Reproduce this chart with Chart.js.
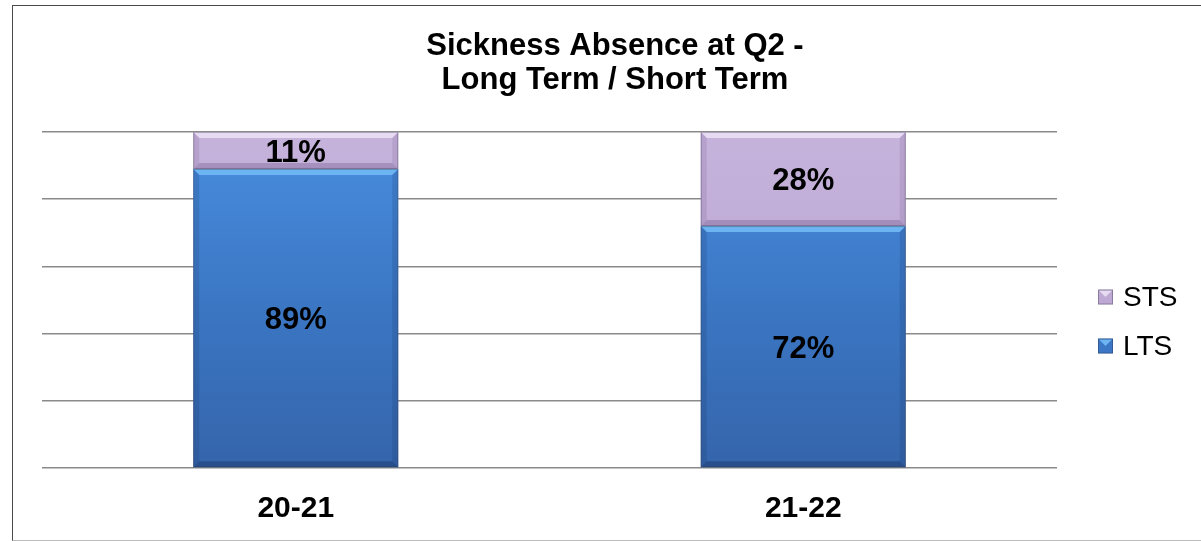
<!DOCTYPE html>
<html>
<head>
<meta charset="utf-8">
<script src="https://cdn.jsdelivr.net/npm/chart.js@4"></script>
<style>
  html, body { margin: 0; padding: 0; width: 1201px; height: 541px; overflow: hidden; background: #fff; }
  #box { position: absolute; left: 12px; top: 5px; width: 1204px; height: 534px;
         border-left: 1px solid #4a4a4a; border-top: 1px solid #4a4a4a; border-bottom: 1px solid #bdbdbd; border-right: 1px solid #4a4a4a; }
  canvas { display: block; }
</style>
</head>
<body>
<div id="box"><canvas id="c" width="1204" height="534"></canvas></div>
<script>
const categories = ['20-21', '21-22'];
const ltsValues = [89, 72];
const stsValues = [11, 28];
const yTicks = [0, 20, 40, 60, 80, 100];
const titleLines = ['Sickness Absence at Q2 -', 'Long Term / Short Term'];

const FONT = "'Liberation Sans', Arial, Helvetica, sans-serif";

const palette = {
  LTS: { body: ['#4a8ee0', '#3b77c4', '#3565ab'], top: '#6cb4f2', side: 'rgba(20,50,100,0.18)', bottom: 'rgba(10,30,70,0.30)' },
  STS: { body: ['#c6b3dc', '#bda9d3', '#b39fca'], top: '#e6dbf2', side: 'rgba(70,40,100,0.12)', bottom: 'rgba(60,30,90,0.22)' }
};

function gradFor(key) {
  return function (ctx) {
    const chart = ctx.chart;
    const area = chart.chartArea;
    if (!area) return palette[key].body[1];
    const g = chart.ctx.createLinearGradient(0, area.top, 0, area.bottom);
    g.addColorStop(0, palette[key].body[0]);
    g.addColorStop(0.5, palette[key].body[1]);
    g.addColorStop(1, palette[key].body[2]);
    return g;
  };
}

const titlePlugin = {
  id: 'centredTitle',
  afterDraw(chart) {
    const ctx = chart.ctx;
    ctx.save();
    ctx.font = "bold 31px " + FONT;
    ctx.fillStyle = '#000';
    ctx.textAlign = 'center';
    ctx.textBaseline = 'middle';
    const cx = chart.width / 2;
    titleLines.forEach((line, i) => ctx.fillText(line, cx, 40.5 + i * 34));
    ctx.restore();
  }
};

const bevelPlugin = {
  id: 'bevel',
  afterDatasetsDraw(chart) {
    const ctx = chart.ctx;
    chart.data.datasets.forEach((ds, di) => {
      const meta = chart.getDatasetMeta(di);
      const pal = palette[ds.label];
      meta.data.forEach((el) => {
        const p = el.getProps(['x', 'y', 'base', 'width'], true);
        const l = p.x - p.width / 2, r = p.x + p.width / 2;
        const t = Math.min(p.y, p.base), b = Math.max(p.y, p.base);
        const d = 6;
        ctx.save();
        ctx.fillStyle = pal.top;
        ctx.beginPath();
        ctx.moveTo(l, t); ctx.lineTo(r, t); ctx.lineTo(r - d, t + d); ctx.lineTo(l + d, t + d); ctx.closePath();
        ctx.fill();
        ctx.fillStyle = pal.side;
        ctx.beginPath();
        ctx.moveTo(l, t); ctx.lineTo(l + d, t + d); ctx.lineTo(l + d, b - d); ctx.lineTo(l, b); ctx.closePath();
        ctx.fill();
        ctx.beginPath();
        ctx.moveTo(r, t); ctx.lineTo(r - d, t + d); ctx.lineTo(r - d, b - d); ctx.lineTo(r, b); ctx.closePath();
        ctx.fill();
        ctx.fillStyle = pal.bottom;
        ctx.beginPath();
        ctx.moveTo(l, b); ctx.lineTo(r, b); ctx.lineTo(r - d, b - d); ctx.lineTo(l + d, b - d); ctx.closePath();
        ctx.fill();
        ctx.strokeStyle = 'rgba(60,60,80,0.35)';
        ctx.lineWidth = 1;
        ctx.strokeRect(l + 0.5, t + 0.5, p.width - 1, b - t - 1);
        ctx.restore();
      });
    });
    ctx.save();
    ctx.font = "bold 31px " + FONT;
    ctx.fillStyle = '#000';
    ctx.textAlign = 'center';
    ctx.textBaseline = 'middle';
    chart.data.datasets.forEach((ds, di) => {
      const meta = chart.getDatasetMeta(di);
      meta.data.forEach((el, i) => {
        const p = el.getProps(['x', 'y', 'base'], true);
        ctx.fillText(ds.data[i] + '%', p.x, (p.y + p.base) / 2 + 2.5);
      });
    });
    ctx.restore();
  }
};

const legendPlugin = {
  id: 'sideLegend',
  afterDraw(chart) {
    const ctx = chart.ctx;
    const area = chart.chartArea;
    const items = chart.data.datasets.slice().reverse();
    const x0 = area.right + 41;
    const yStart = 291, gap = 49;
    ctx.save();
    ctx.font = "28px " + FONT;
    ctx.textBaseline = 'middle';
    ctx.textAlign = 'left';
    items.forEach((ds, k) => {
      const pal = palette[ds.label];
      const cy = yStart + k * gap;
      const s = 15, bx = x0, by = cy - 7.5;
      ctx.fillStyle = pal.body[1];
      ctx.fillRect(bx, by, s, s);
      ctx.fillStyle = pal.top;
      ctx.beginPath();
      ctx.moveTo(bx + 1, by + 1); ctx.lineTo(bx + s - 1, by + 1); ctx.lineTo(bx + s / 2, by + s / 2); ctx.closePath();
      ctx.fill();
      ctx.strokeStyle = 'rgba(40,40,60,0.35)';
      ctx.strokeRect(bx + 0.5, by + 0.5, s - 1, s - 1);
      ctx.fillStyle = '#000';
      ctx.fillText(ds.label, bx + s + 10, cy + 1);
    });
    ctx.restore();
  }
};

new Chart(document.getElementById('c'), {
  type: 'bar',
  data: {
    labels: categories,
    datasets: [
      { label: 'LTS', data: ltsValues, backgroundColor: gradFor('LTS'), borderWidth: 0 },
      { label: 'STS', data: stsValues, backgroundColor: gradFor('STS'), borderWidth: 0 }
    ]
  },
  options: {
    responsive: false,
    animation: false,
    devicePixelRatio: 1,
    layout: { padding: { left: 29, right: 160, top: 126, bottom: 16 } },
    datasets: { bar: { categoryPercentage: 1.0, barPercentage: 0.404 } },
    plugins: {
      legend: { display: false },
      tooltip: { enabled: false },
      title: { display: false }
    },
    scales: {
      x: {
        stacked: true,
        grid: { display: false, drawTicks: false },
        border: { display: false },
        ticks: { color: '#000', padding: 23, font: { family: FONT, size: 30, weight: 'bold' } },
        afterFit(scale) { scale.height = 56; }
      },
      y: {
        stacked: true,
        min: 0,
        max: 100,
        afterBuildTicks(scale) { scale.ticks = yTicks.map(v => ({ value: v })); },
        ticks: { display: false },
        grid: { color: '#8a8a8a', lineWidth: 1.5, drawTicks: false },
        border: { display: false }
      }
    }
  },
  plugins: [bevelPlugin, legendPlugin, titlePlugin]
});
</script>
</body>
</html>
